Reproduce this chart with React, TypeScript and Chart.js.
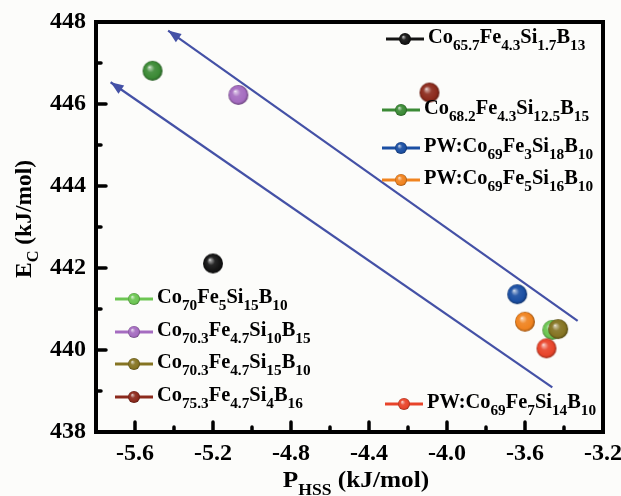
import React, { useEffect, useRef } from 'react';
import { Chart, registerables } from 'chart.js';

Chart.register(...registerables);

// Alloy series, in legend order. "_{...}" marks a subscript.
const seriesNames = [
  'Co_{65.7}Fe_{4.3}Si_{1.7}B_{13}',
  'Co_{68.2}Fe_{4.3}Si_{12.5}B_{15}',
  'PW:Co_{69}Fe_{3}Si_{18}B_{10}',
  'PW:Co_{69}Fe_{5}Si_{16}B_{10}',
  'Co_{70}Fe_{5}Si_{15}B_{10}',
  'Co_{70.3}Fe_{4.7}Si_{10}B_{15}',
  'Co_{70.3}Fe_{4.7}Si_{15}B_{10}',
  'Co_{75.3}Fe_{4.7}Si_{4}B_{16}',
  'PW:Co_{69}Fe_{7}Si_{14}B_{10}',
];
const pHss = [-5.2, -5.51, -3.64, -3.6, -3.46, -5.07, -3.43, -4.09, -3.49];
const eC = [442.11, 446.81, 441.36, 440.69, 440.49, 446.22, 440.51, 446.28, 440.04];
const seriesColors = [
  '#141414', '#3b8a35', '#1b4fa3', '#f0831f', '#6cc552',
  '#a56cc0', '#857422', '#8c2a1c', '#e8442a',
];

const xTicks = [-5.6, -5.2, -4.8, -4.4, -4.0, -3.6, -3.2];
const xMinorTicks = [-5.4, -5.0, -4.6, -4.2, -3.8, -3.4];
const yTicks = [438, 440, 442, 444, 446, 448];
const yMinorTicks = [439, 441, 443, 445, 447];

// Trend arrows: tail -> head
const arrowTailX = [-3.33, -3.46];
const arrowTailY = [440.71, 439.09];
const arrowHeadX = [-5.43, -5.725];
const arrowHeadY = [447.79, 446.53];

// Legend entry anchors (line start x, centre y), same order as seriesNames
const legendSpots = [
  { x: 386, y: 39 },
  { x: 382, y: 110 },
  { x: 382, y: 148 },
  { x: 382, y: 180 },
  { x: 115, y: 299 },
  { x: 115, y: 332 },
  { x: 115, y: 364 },
  { x: 115, y: 397 },
  { x: 385, y: 404 },
];

const FONT = '"Liberation Serif", "Times New Roman", serif';
const ARROW_COLOR = '#4451a6';
const BG = '#fcfcfa';

function hexToRgb(h: string) {
  const n = parseInt(h.slice(1), 16);
  return [(n >> 16) & 255, (n >> 8) & 255, n & 255];
}
function mix(a: string, b: string, t: number) {
  const A = hexToRgb(a);
  const B = hexToRgb(b);
  const c = A.map((v, i) => Math.round(v + (B[i] - v) * t));
  return `rgb(${c[0]},${c[1]},${c[2]})`;
}

// Glossy sphere sprite used as point style
function makeBall(color: string, r: number) {
  const s = Math.ceil(2 * r + 2);
  const c = document.createElement('canvas');
  c.width = s;
  c.height = s;
  const g = c.getContext('2d')!;
  const cx = s / 2;
  const cy = s / 2;
  const grad = g.createRadialGradient(cx - r * 0.32, cy - r * 0.38, 0, cx, cy, r);
  grad.addColorStop(0, '#ffffff');
  grad.addColorStop(0.1, mix(color, '#ffffff', 0.6));
  grad.addColorStop(0.4, mix(color, '#ffffff', 0.08));
  grad.addColorStop(0.8, color);
  grad.addColorStop(1, mix(color, '#000000', 0.35));
  g.fillStyle = grad;
  g.beginPath();
  g.arc(cx, cy, r, 0, Math.PI * 2);
  g.fill();
  return c;
}

type Part = { t: string; sub: boolean };
function parseRich(s: string): Part[] {
  const parts: Part[] = [];
  const re = /_\{([^}]*)\}/g;
  let last = 0;
  let m: RegExpExecArray | null;
  while ((m = re.exec(s))) {
    if (m.index > last) parts.push({ t: s.slice(last, m.index), sub: false });
    parts.push({ t: m[1], sub: true });
    last = re.lastIndex;
  }
  if (last < s.length) parts.push({ t: s.slice(last), sub: false });
  return parts;
}

function richWidth(ctx: CanvasRenderingContext2D, parts: Part[], main: number, sub: number) {
  let w = 0;
  for (const p of parts) {
    ctx.font = `bold ${p.sub ? sub : main}px ${FONT}`;
    w += ctx.measureText(p.t).width;
  }
  return w;
}

// Draws text with subscripts; hs stretches it horizontally
function drawRich(
  ctx: CanvasRenderingContext2D,
  s: string,
  x: number,
  baseline: number,
  main: number,
  sub: number,
  subDrop: number,
  align: 'left' | 'center',
  hs = 1
) {
  const parts = parseRich(s);
  const w = richWidth(ctx, parts, main, sub);
  ctx.save();
  ctx.translate(x, baseline);
  ctx.scale(hs, 1);
  let cx = align === 'center' ? -w / 2 : 0;
  ctx.textAlign = 'left';
  ctx.textBaseline = 'alphabetic';
  ctx.fillStyle = '#000';
  for (const p of parts) {
    ctx.font = `bold ${p.sub ? sub : main}px ${FONT}`;
    ctx.fillText(p.t, cx, p.sub ? subDrop : 0);
    cx += ctx.measureText(p.t).width;
  }
  ctx.restore();
}

export default function App() {
  const ref = useRef<HTMLCanvasElement>(null);

  useEffect(() => {
    document.body.style.margin = '0';
    document.body.style.background = BG;

    const balls = seriesColors.map((c) => makeBall(c, 10));
    const smallBalls = seriesColors.map((c) => makeBall(c, 6));

    const pointSets = seriesNames.map((name, i) => ({
      type: 'scatter' as const,
      label: name,
      data: [{ x: pHss[i], y: eC[i] }],
      pointStyle: balls[i],
      pointRadius: 10,
      backgroundColor: seriesColors[i],
      borderColor: seriesColors[i],
      order: i === 4 ? 10 : 0,
    }));

    const arrowSets = arrowTailX.map((_, i) => ({
      type: 'line' as const,
      label: `arrow${i}`,
      data: [
        { x: arrowTailX[i], y: arrowTailY[i] },
        { x: arrowHeadX[i], y: arrowHeadY[i] },
      ],
      borderColor: ARROW_COLOR,
      borderWidth: 2.2,
      pointRadius: 0,
      fill: false,
      order: 100,
    }));

    const decor = {
      id: 'decor',
      beforeDraw(chart: any) {
        const ctx = chart.ctx as CanvasRenderingContext2D;
        ctx.save();
        ctx.fillStyle = BG;
        ctx.fillRect(0, 0, chart.width, chart.height);
        ctx.restore();
      },
      afterDatasetsDraw(chart: any) {
        const ctx = chart.ctx as CanvasRenderingContext2D;
        const xs = chart.scales.x;
        const ys = chart.scales.y;
        ctx.save();
        ctx.fillStyle = ARROW_COLOR;
        for (let i = 0; i < arrowHeadX.length; i++) {
          const hx = xs.getPixelForValue(arrowHeadX[i]);
          const hy = ys.getPixelForValue(arrowHeadY[i]);
          const tx = xs.getPixelForValue(arrowTailX[i]);
          const ty = ys.getPixelForValue(arrowTailY[i]);
          const ang = Math.atan2(hy - ty, hx - tx);
          const len = 13;
          const half = 5;
          const bx = hx - len * Math.cos(ang);
          const by = hy - len * Math.sin(ang);
          ctx.beginPath();
          ctx.moveTo(hx, hy);
          ctx.lineTo(bx + half * Math.sin(ang), by - half * Math.cos(ang));
          ctx.lineTo(bx - half * Math.sin(ang), by + half * Math.cos(ang));
          ctx.closePath();
          ctx.fill();
        }
        ctx.restore();
      },
      afterDraw(chart: any) {
        const ctx = chart.ctx as CanvasRenderingContext2D;
        const a = chart.chartArea;
        const xs = chart.scales.x;
        const ys = chart.scales.y;
        ctx.save();

        // frame
        ctx.strokeStyle = '#000';
        ctx.lineWidth = 4;
        ctx.strokeRect(a.left, a.top, a.right - a.left, a.bottom - a.top);

        // inward ticks
        ctx.lineCap = 'round';
        ctx.lineWidth = 3.5;
        const tick = (x1: number, y1: number, x2: number, y2: number) => {
          ctx.beginPath();
          ctx.moveTo(x1, y1);
          ctx.lineTo(x2, y2);
          ctx.stroke();
        };
        for (const v of xTicks) {
          const px = xs.getPixelForValue(v);
          if (px < a.right - 3) tick(px, a.bottom, px, a.bottom - 10);
        }
        for (const v of xMinorTicks) {
          const px = xs.getPixelForValue(v);
          tick(px, a.bottom, px, a.bottom - 5);
        }
        for (const v of yTicks) {
          const py = ys.getPixelForValue(v);
          if (py > a.top + 3 && py < a.bottom - 3) tick(a.left, py, a.left + 10, py);
        }
        for (const v of yMinorTicks) {
          const py = ys.getPixelForValue(v);
          tick(a.left, py, a.left + 5, py);
        }

        // legend entries
        ctx.lineCap = 'butt';
        seriesNames.forEach((name, i) => {
          const s = legendSpots[i];
          ctx.strokeStyle = seriesColors[i];
          ctx.lineWidth = 3;
          ctx.beginPath();
          ctx.moveTo(s.x, s.y);
          ctx.lineTo(s.x + 38, s.y);
          ctx.stroke();
          const b = smallBalls[i];
          ctx.drawImage(b, s.x + 19 - b.width / 2, s.y - b.height / 2);
          drawRich(ctx, name, s.x + 42, s.y + 4, 20, 15, 7, 'left', 1.02);
        });

        // axis titles
        drawRich(ctx, 'P_{HSS} (kJ/mol)', 356, 487, 23, 16, 8, 'center', 1.1);
        ctx.translate(31, 219);
        ctx.rotate(-Math.PI / 2);
        drawRich(ctx, 'E_{C} (kJ/mol)', 0, 0, 23, 16, 7, 'center', 1.02);

        ctx.restore();
      },
    };

    const tickFont = { family: FONT, size: 24, weight: 'bold' as const };

    const chart = new Chart(ref.current!, {
      type: 'scatter',
      data: { datasets: [...pointSets, ...arrowSets] as any },
      options: {
        responsive: false,
        devicePixelRatio: 1,
        animation: false,
        layout: { padding: { top: 22, right: 18, left: 0, bottom: 0 } },
        plugins: { legend: { display: false }, tooltip: { enabled: false } },
        scales: {
          x: {
            type: 'linear',
            min: -5.8,
            max: -3.2,
            grid: { display: false, drawTicks: false },
            border: { display: false },
            ticks: {
              font: tickFont,
              color: '#000',
              padding: 7,
              callback: (v: any) => Number(v).toFixed(1),
            },
            afterBuildTicks: (s: any) => {
              s.ticks = xTicks.map((v) => ({ value: v }));
            },
            afterFit: (s: any) => {
              s.height = 64;
              s.paddingLeft = 0;
              s.paddingRight = 0;
            },
          },
          y: {
            type: 'linear',
            min: 438,
            max: 448,
            grid: { display: false, drawTicks: false },
            border: { display: false },
            ticks: {
              font: tickFont,
              color: '#000',
              padding: 10,
              callback: (v: any) => String(v),
            },
            afterBuildTicks: (s: any) => {
              s.ticks = yTicks.map((v) => ({ value: v }));
            },
            afterFit: (s: any) => {
              s.width = 96;
              s.paddingTop = 0;
              s.paddingBottom = 0;
            },
          },
        },
      },
      plugins: [decor],
    });

    return () => chart.destroy();
  }, []);

  return (
    <div style={{ width: 621, height: 496, position: 'relative' }}>
      <canvas ref={ref} width={621} height={496} style={{ display: 'block' }} />
    </div>
  );
}
